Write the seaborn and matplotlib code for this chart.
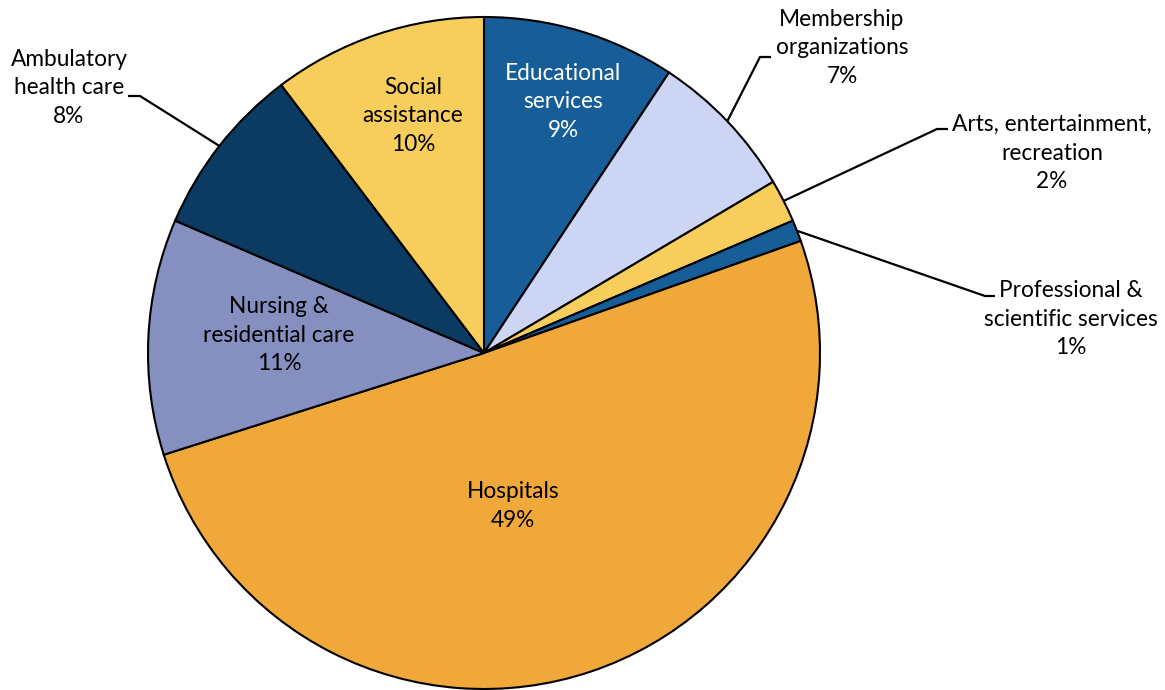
import numpy as np
import matplotlib
matplotlib.use("Agg")
import matplotlib.pyplot as plt
import seaborn as sns

# Employment share by industry (percent, as labelled)
categories = [
    "Educational\nservices",
    "Membership\norganizations",
    "Arts, entertainment,\nrecreation",
    "Professional &\nscientific services",
    "Hospitals",
    "Nursing &\nresidential care",
    "Ambulatory\nhealth care",
    "Social\nassistance",
]
shares = [9, 7, 2, 1, 49, 11, 8, 10]

colors = ["#175E98", "#CCD5F4", "#F7CE5B", "#175E98",
          "#F1A83A", "#8590C0", "#0B3A62", "#F7CE5B"]
text_colors = ["white", "black", "black", "black",
               "black", "black", "black", "black"]

sns.set_theme(style="white")
plt.rcParams["font.family"] = ["Lato", "DejaVu Sans"]

W, H = 1165, 690
fig = plt.figure(figsize=(W / 100, H / 100), dpi=100)
ax = fig.add_axes([0, 0, 1, 1])
ax.set_xlim(0, W)
ax.set_ylim(0, H)
ax.set_aspect("equal")
ax.axis("off")

cx, cy, r = 484, H - 353, 336
wedges, _ = ax.pie(
    shares, colors=colors, startangle=90, counterclock=False,
    center=(cx, cy), radius=r, frame=True,
    wedgeprops=dict(edgecolor="black", linewidth=1.5),
)
ax.set_xlim(0, W)
ax.set_ylim(0, H)
ax.axis("off")

fs = 16.3
ls = 1.46
# Labels placed inside their slices
inside = {
    0: (563, 102),
    4: (513, 506),
    5: (279, 335),
    7: (413, 116),
}
# Labels placed outside with leader lines: (text centre, elbow, elbow end)
outside = {
    1: ((842, 48), (760, 57), (771, 57)),
    2: ((1052, 153), (937, 129), (948, 129)),
    3: ((1071, 319), (985, 296), (995, 296)),
    6: ((69, 88), (140, 96), (128, 96)),
}

for i, (cat, val) in enumerate(zip(categories, shares)):
    label = f"{cat}\n{val}%"
    if i in inside:
        x, y = inside[i]
        ax.text(x, H - y, label, ha="center", va="center", fontsize=fs,
                color=text_colors[i], linespacing=ls)
    else:
        (tx, ty), (ex, ey), (hx, hy) = outside[i]
        w = wedges[i]
        mid = np.deg2rad((w.theta1 + w.theta2) / 2)
        px, py = cx + r * np.cos(mid), cy + r * np.sin(mid)
        ax.plot([px, ex, hx], [py, H - ey, H - hy], color="black",
                lw=1.6, solid_capstyle="butt", zorder=5)
        ax.text(tx, H - ty, label, ha="center", va="center", fontsize=fs,
                color="black", linespacing=ls)

fig.savefig("out.png", dpi=100, facecolor="white")
